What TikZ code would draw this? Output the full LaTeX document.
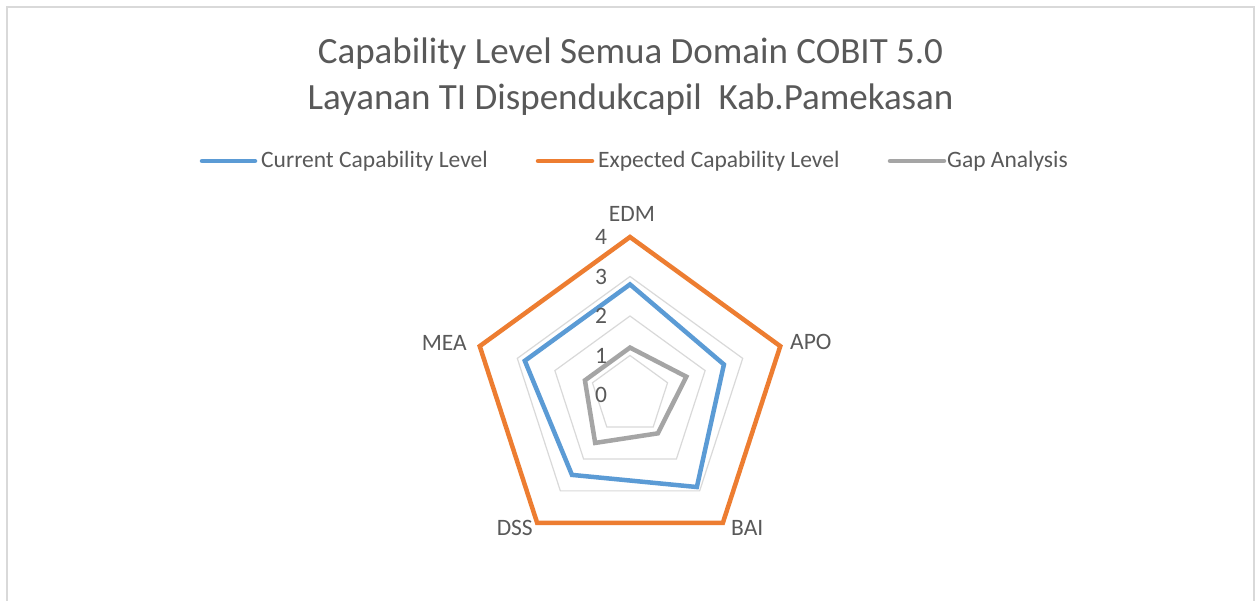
\documentclass[tikz,border=0pt]{standalone}
\usepackage{fontspec}
\setmainfont{Carlito}
\definecolor{txt}{HTML}{595959}
\definecolor{cblue}{HTML}{5B9BD5}
\definecolor{corange}{HTML}{ED7D31}
\definecolor{cgray}{HTML}{A5A5A5}
\definecolor{gridc}{HTML}{D9D9D9}
\begin{document}
\begin{tikzpicture}[x=1pt,y=1pt,
  titletext/.style={inner sep=0pt, text=txt, font=\fontsize{37}{46}\selectfont, anchor=base},
  smalltext/.style={inner sep=0pt, text=txt, font=\fontsize{23.5}{28}\selectfont},
  gridline/.style={draw=gridc, line width=1.2pt},
  series/.style={line width=4.5pt, line join=miter},
  legline/.style={line width=4.5pt, line cap=round}]
\useasboundingbox (0,0) rectangle (1259,-601);
\fill[white] (0,0) rectangle (1259,-601);
\draw[gridc, line width=2pt] (7,-601) -- (7,-7) -- (1254,-7) -- (1254,-601);
% title
\node[titletext] (t1) at (630.5,-64) {Capability Level Semua Domain COBIT 5.0};
\node[titletext] (t2) at (630.5,-110) {Layanan TI Dispendukcapil\ \ Kab.Pamekasan};
% legend
\coordinate (l1a) at (202,-161); \coordinate (l1b) at (255,-161);
\coordinate (l2a) at (538,-161); \coordinate (l2b) at (592,-161);
\coordinate (l3a) at (890,-161); \coordinate (l3b) at (944,-161);
\draw[legline, cblue] (l1a) -- (l1b);
\draw[legline, corange] (l2a) -- (l2b);
\draw[legline, cgray] (l3a) -- (l3b);
\node[smalltext, anchor=base west] (lt1) at (261,-168) {Current Capability Level};
\node[smalltext, anchor=base west] (lt2) at (598,-168) {Expected Capability Level};
\node[smalltext, anchor=base west] (lt3) at (947,-168) {Gap Analysis};
% radar
\begin{scope}[shift={(630,-395)}]
  \coordinate (ctr) at (0,0);
  \foreach \l in {1,2,3,4}{
    \draw[gridline] (90:\l*39.5) -- (18:\l*39.5) -- (-54:\l*39.5) -- (-126:\l*39.5) -- (162:\l*39.5) -- cycle;
  }
  % current
  \draw[series, cblue] (90:2.8*39.5) -- (18:2.5*39.5) -- (-54:2.88*39.5) -- (-126:2.5*39.5) -- (162:2.8*39.5) -- cycle;
  % expected
  \draw[series, corange] (90:4*39.5) -- (18:4*39.5) -- (-54:4*39.5) -- (-126:4*39.5) -- (162:4*39.5) -- cycle;
  % gap
  \draw[series, cgray] (90:1.2*39.5) -- (18:1.5*39.5) -- (-54:1.2*39.5) -- (-126:1.5*39.5) -- (162:1.2*39.5) -- cycle;
  % tick labels
  \foreach \l in {0,1,2,3,4}{
    \node[smalltext] (tick\l) at (-29,\l*39.5) {\l};
  }
\end{scope}
% category labels
\node[smalltext] (edm) at (632,-214) {EDM};
\node[smalltext, anchor=west] (apo) at (790,-342) {APO};
\node[smalltext, anchor=west] (bai) at (731,-528) {BAI};
\node[smalltext, anchor=east] (dss) at (533,-528) {DSS};
\node[smalltext, anchor=east] (mea) at (467,-343) {MEA};
\end{tikzpicture}
\end{document}
